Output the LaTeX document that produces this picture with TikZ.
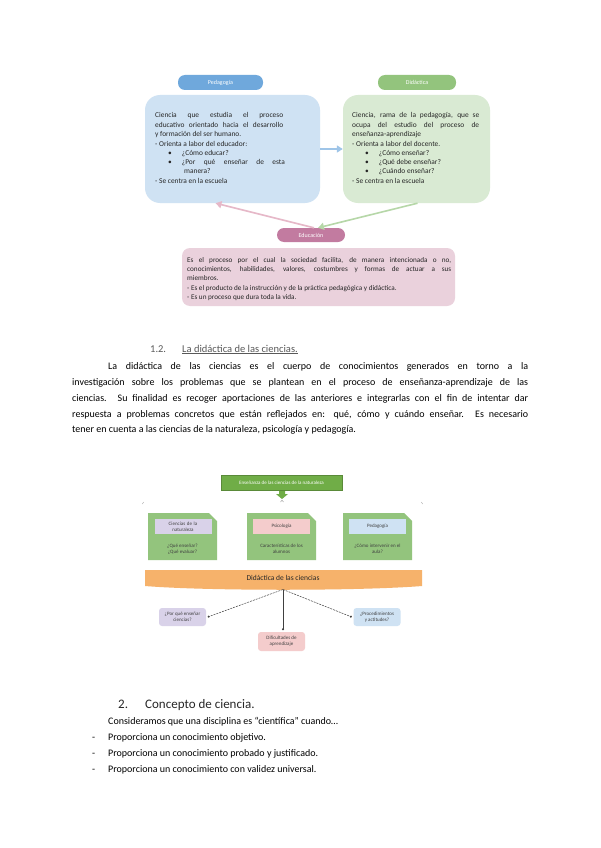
\documentclass[tikz,border=0pt]{standalone}
\usepackage{fontspec}
\setmainfont{Carlito}
\usetikzlibrary{arrows.meta,calc}
\definecolor{pedpill}{HTML}{6FA8DC}
\definecolor{pedbox}{HTML}{CFE2F3}
\definecolor{didpill}{HTML}{93C47D}
\definecolor{didbox}{HTML}{D9EAD3}
\definecolor{edupill}{HTML}{C27BA0}
\definecolor{edubox}{HTML}{EAD1DC}
\definecolor{arrblue}{HTML}{9FC5E8}
\definecolor{arrpink}{HTML}{E6B8C8}
\definecolor{arrgreen}{HTML}{B6D7A8}
\definecolor{headgray}{HTML}{595959}
\definecolor{topgreen}{HTML}{70AD47}
\definecolor{boxgreen}{HTML}{93C47D}
\definecolor{lav}{HTML}{D9D2E9}
\definecolor{lpink}{HTML}{F4CCCC}
\definecolor{lblue}{HTML}{CFE2F3}
\definecolor{band}{HTML}{F6B26B}
\definecolor{conn}{HTML}{404040}
\newcommand{\jl}[2]{\makebox[#1][s]{#2}}
\begin{document}
\begin{tikzpicture}[x=1pt,y=-1pt,
  pill/.style={rounded corners=7pt, text=white, font=\fontsize{6}{7}\selectfont, inner sep=0pt},
  bigbox/.style={rounded corners=15pt, inner sep=0pt},
  boxtext/.style={anchor=north west, inner sep=0pt, align=left, font=\fontsize{7.4}{9.2}\selectfont, text=black!85},
  body/.style={anchor=base west, inner sep=0pt, font=\fontsize{10}{16}\selectfont},
  tiny/.style={font=\fontsize{5}{6}\selectfont, text=black!75, align=center, inner sep=0pt},
  linkarrow/.style={line width=1.6pt, -{Triangle[length=6pt,width=7pt]}},
  smallbox/.style={rounded corners=3pt, inner sep=0pt, minimum width=47pt, minimum height=18pt}
]
\useasboundingbox[fill=white] (0,0) rectangle (600,848);

% ---------- top diagram ----------
\node[bigbox, fill=pedbox, minimum width=175pt, minimum height=108pt] (pedbox) at (232.5,149) {};
\node[bigbox, fill=didbox, minimum width=147pt, minimum height=108pt] (didbox) at (416.5,149) {};
\node[pill, fill=pedpill, minimum width=85pt, minimum height=15pt] (pedpill) at (220.5,82.5) {Pedagogía};
\node[pill, fill=didpill, minimum width=78pt, minimum height=15pt] (didpill) at (417,82.5) {Didáctica};

\node[boxtext] (pedtxt) at (155,112.5) {%
\jl{128pt}{Ciencia que estudia el proceso}\\
\jl{128pt}{educativo orientado hacia el desarrollo}\\
y formación del ser humano.\\[0.8pt]
- Orienta a labor del educador:\\
\hspace*{13pt}\textbullet\hspace*{10pt}¿Cómo educar?\\
\hspace*{13pt}\textbullet\hspace*{10pt}\jl{103pt}{¿Por qué enseñar de esta}\\
\hspace*{29pt}manera?\\[0.8pt]
- Se centra en la escuela};

\node[boxtext] (didtxt) at (352,112.5) {%
\jl{127pt}{Ciencia, rama de la pedagogía, que se}\\
\jl{127pt}{ocupa del estudio del proceso de}\\
enseñanza-aprendizaje\\[0.8pt]
- Orienta a labor del docente.\\
\hspace*{13pt}\textbullet\hspace*{10pt}¿Cómo enseñar?\\
\hspace*{13pt}\textbullet\hspace*{10pt}¿Qué debe enseñar?\\
\hspace*{13pt}\textbullet\hspace*{10pt}¿Cuándo enseñar?\\[0.8pt]
- Se centra en la escuela};

\node[pill, fill=edupill, minimum width=68pt, minimum height=14pt] (edupill) at (311,235) {Educación};
\node[rounded corners=8pt, fill=edubox, minimum width=273pt, minimum height=58pt, inner sep=0pt] (edubox) at (318.5,277) {};
\node[boxtext, font=\fontsize{7.2}{9.3}\selectfont] (edutxt) at (187,257) {%
\jl{264pt}{Es el proceso por el cual la sociedad facilita, de manera intencionada o no,}\\
\jl{264pt}{conocimientos, habilidades, valores, costumbres y formas de actuar a sus}\\
miembros.\\
- Es el producto de la instrucción y de la práctica pedagógica y didáctica.\\
- Es un proceso que dura toda la vida.};

\draw[linkarrow, arrblue] (pedbox.east) -- (didbox.west);
\draw[linkarrow, arrpink] ($(edupill.north)+(3,0)$) -- ($(pedbox.south)+(-17,0)$);
\draw[linkarrow, arrgreen] ($(didbox.south)+(1,0)$) -- ($(edupill.north)+(7,0)$);

% ---------- section 1.2 ----------
\node[body, font=\fontsize{10.5}{12}\selectfont, text=headgray] (num12) at (150,352) {1.2.};
\node[body, font=\fontsize{10.5}{12}\selectfont, text=headgray] (head12) at (182,352) {\underline{La didáctica de las ciencias.}};

\node[body] (p1) at (108,369) {\jl{420pt}{La didáctica de las ciencias es el cuerpo de conocimientos generados en torno a la}};
\node[body] (p2) at (72,385) {\jl{456pt}{investigación sobre los problemas que se plantean en el proceso de enseñanza-aprendizaje de las}};
\node[body] (p3) at (72,401) {\jl{456pt}{ciencias. Su finalidad es recoger aportaciones de las anteriores e integrarlas con el fin de intentar dar}};
\node[body] (p4) at (72,417) {\jl{456pt}{respuesta a problemas concretos que están reflejados en: qué, cómo y cuándo enseñar. Es necesario}};
\node[body] (p5) at (72,432) {tener en cuenta a las ciencias de la naturaleza, psicología y pedagogía.};

% ---------- second diagram ----------
\node[fill=topgreen, draw=topgreen!80!black, line width=0.4pt, minimum width=121pt, minimum height=15pt, inner sep=0pt,
      text=white, font=\fontsize{5}{6}\selectfont] (topg) at (281.5,482.5) {Enseñanza de las ciencias de la naturaleza};
\fill[topgreen] (279,491) -- (285,491) -- (285,494) -- (288,494) -- (282,499) -- (276,494) -- (279,494) -- cycle;
\draw[black!50, line width=0.3pt] (280.5,502) -- (282,500.3) -- (283.5,502);
\draw[black!45, line width=0.3pt] (142.5,504) -- (143.5,502);
\draw[black!45, line width=0.3pt] (421.5,502) -- (422.5,504);

\foreach \cx/\nm in {182.5/g1, 281.5/g2, 377.5/g3} {
  \fill[boxgreen] (\cx-34.5,513) -- (\cx+26.5,513) -- (\cx+34.5,521) -- (\cx+34.5,560) -- (\cx-34.5,560) -- cycle;
  \coordinate (\nm) at (\cx,536.5);
}
\node[fill=lav, minimum width=57pt, minimum height=15pt, inner sep=0pt, tiny, text width=55pt] (l1) at (183,526.5) {Ciencias de la\\naturaleza};
\node[fill=lpink, minimum width=57pt, minimum height=15pt, inner sep=0pt, tiny] (l2) at (281.5,526.5) {Psicología};
\node[fill=lblue, minimum width=57pt, minimum height=15pt, inner sep=0pt, tiny] (l3) at (377.5,526.5) {Pedagogía};
\node[tiny] (t1) at (182.5,549) {¿Qué enseñar?\\¿Qué evaluar?};
\node[tiny] (t2) at (281.5,549) {Características de los\\alumnos};
\node[tiny] (t3) at (377.5,549) {¿Cómo intervenir en el\\aula?};

\fill[band] (145,570) -- (422,570) -- (422,586) .. controls (360,591) and (206,591) .. (145,586) -- cycle;
\node[font=\fontsize{7.5}{8}\selectfont, text=black!85, inner sep=0pt] (bandtxt) at (283,578) {Didáctica de las ciencias};
\coordinate (bandc) at (283,589.5);

\node[smallbox, fill=lav, tiny] (b1) at (182.5,617) {¿Por qué enseñar\\ciencias?};
\node[smallbox, fill=lpink, tiny, minimum height=19pt] (b2) at (281.5,641.5) {Dificultades de\\aprendizaje};
\node[smallbox, fill=lblue, tiny] (b3) at (377,617) {¿Procedimientos\\y actitudes?};

\draw[conn, line width=0.5pt, dashed, dash pattern=on 2pt off 1pt, -{Circle[length=2pt]}] (bandc) -- ($(b1.east)+(1.5,0)$);
\draw[conn, line width=0.5pt, -{Circle[length=2pt]}] (bandc) -- ($(b2.north)+(1.5,-1.5)$);
\draw[conn, line width=0.5pt, dashed, dash pattern=on 2pt off 1pt, -{Circle[length=2pt]}] (bandc) -- ($(b3.west)+(-1.5,0)$);

% ---------- section 2 ----------
\node[body, font=\fontsize{13}{15}\selectfont, text=black!85] (num2) at (118,708) {2.};
\node[body, font=\fontsize{13}{15}\selectfont, text=black!85] (head2) at (145,708) {Concepto de ciencia.};
\node[body] (c0) at (108,724) {Consideramos que una disciplina es “científica” cuando…};
\node[body] (d1) at (92,740) {-};
\node[body] (c1) at (108,740) {Proporciona un conocimiento objetivo.};
\node[body] (d2) at (92,756) {-};
\node[body] (c2) at (108,756) {Proporciona un conocimiento probado y justificado.};
\node[body] (d3) at (92,772) {-};
\node[body] (c3) at (108,772) {Proporciona un conocimiento con validez universal.};
\end{tikzpicture}
\end{document}
